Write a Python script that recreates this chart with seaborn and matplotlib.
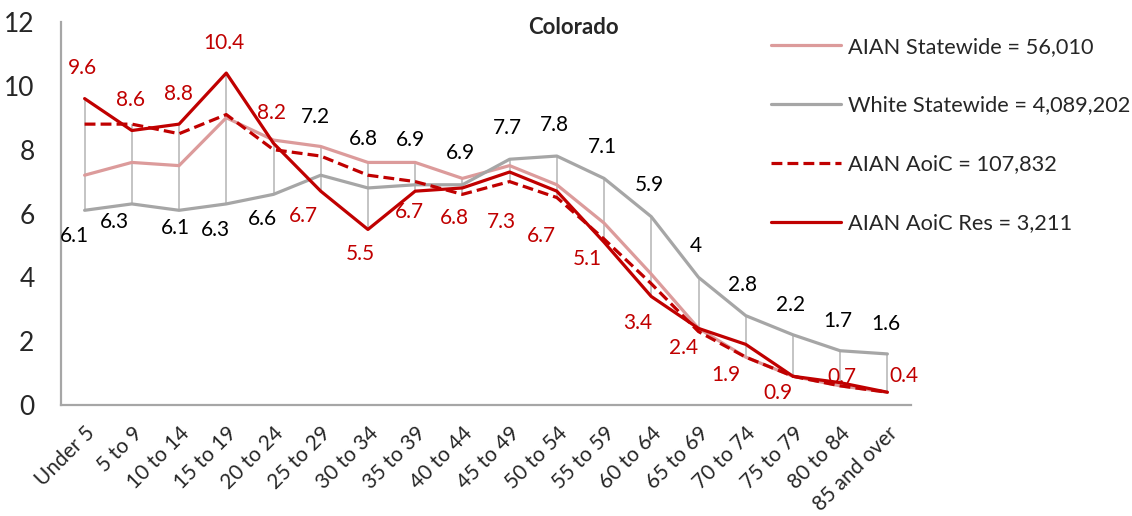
import numpy as np
import pandas as pd
import seaborn as sns
import matplotlib.pyplot as plt

# --- dados ---
categories = ["Under 5", "5 to 9", "10 to 14", "15 to 19", "20 to 24", "25 to 29",
              "30 to 34", "35 to 39", "40 to 44", "45 to 49", "50 to 54", "55 to 59",
              "60 to 64", "65 to 69", "70 to 74", "75 to 79", "80 to 84", "85 and over"]

aian_statewide = [7.2, 7.6, 7.5, 9.0, 8.3, 8.1, 7.6, 7.6, 7.1, 7.5, 6.9, 5.7, 4.1, 2.4, 1.5, 0.9, 0.6, 0.4]
white_statewide = [6.1, 6.3, 6.1, 6.3, 6.6, 7.2, 6.8, 6.9, 6.9, 7.7, 7.8, 7.1, 5.9, 4, 2.8, 2.2, 1.7, 1.6]
aian_aoic = [8.8, 8.8, 8.5, 9.1, 8.0, 7.8, 7.2, 7.0, 6.6, 7.0, 6.5, 5.2, 3.8, 2.3, 1.5, 0.9, 0.6, 0.4]
aian_aoic_res = [9.6, 8.6, 8.8, 10.4, 8.2, 6.7, 5.5, 6.7, 6.8, 7.3, 6.7, 5.1, 3.4, 2.4, 1.9, 0.9, 0.7, 0.4]

series_names = ["AIAN Statewide = 56,010", "White Statewide = 4,089,202",
                "AIAN AoiC = 107,832", "AIAN AoiC Res = 3,211"]

# deslocamento dos rótulos (pixels), como no gráfico original
white_label_off = [(-10, -26), (-17, -18), (-4, -18), (-11, -26), (-11, -25), (-5, 58),
                   (-5, 49), (-5, 45), (-2, 32), (-2, 31), (-2, 31), (-2, 31),
                   (-2, 32), (-3, 31), (-3, 31), (-2, 30), (-2, 30), (-2, 30)]
res_label_off = [(-2, 31), (-1, 31), (-1, 30), (-2, 30), (-2, 30), (-17, -25),
                 (-8, -25), (-6, -21), (-8, -30), (-8, -50), (-15, -45), (-17, -17),
                 (-14, -27), (-15, -20), (-20, -31), (-15, -17), (2, 6), (17, 16)]

PINK = "#DC9B9B"
GRAY = "#A6A6A6"
RED = "#C00000"

sns.set_style("white")
plt.rcParams["font.family"] = ["Lato", "DejaVu Sans"]

fig = plt.figure(figsize=(11.32, 5.16), dpi=100)
ax = fig.add_axes([61 / 1132, 1 - 405 / 516, (911 - 61) / 1132, (405 - 22) / 516])

x = np.arange(len(categories))
all_vals = np.array([aian_statewide, white_statewide, aian_aoic, aian_aoic_res])

# linhas de máximo-mínimo (estilo Excel)
ax.vlines(x, all_vals.min(axis=0), all_vals.max(axis=0), color="#B4B4B4", linewidth=1.1, zorder=1)

styles = [
    (aian_statewide, PINK, "-"),
    (white_statewide, GRAY, "-"),
    (aian_aoic, RED, (0, (3.4, 1.6))),
    (aian_aoic_res, RED, "-"),
]
for (vals, color, ls), name in zip(styles, series_names):
    df = pd.DataFrame({"x": x, "y": vals})
    sns.lineplot(data=df, x="x", y="y", ax=ax, color=color, linewidth=2.3,
                 linestyle=ls, label=name, zorder=2)

for i, v in enumerate(white_statewide):
    ax.annotate(f"{v:g}", (i, v), xytext=white_label_off[i], textcoords="offset pixels",
                ha="center", va="center", fontsize=15, color="black")
for i, v in enumerate(aian_aoic_res):
    ax.annotate(f"{v:g}", (i, v), xytext=res_label_off[i], textcoords="offset pixels",
                ha="center", va="center", fontsize=15, color=RED)

ax.set_xlim(-0.5, len(categories) - 0.5)
ax.set_ylim(0, 12)
ax.set_yticks(range(0, 13, 2))
ax.set_xticks(x)
ax.set_xticklabels(categories, rotation=45, ha="right", va="top", rotation_mode="anchor", fontsize=15)
ax.set_xticks(np.arange(-0.5, len(categories), 1), minor=True)
ax.tick_params(axis="x", which="major", length=0, pad=13)
ax.tick_params(axis="x", which="minor", length=7, width=1.2, color=GRAY, direction="out")
ax.tick_params(axis="y", length=7, width=1.2, color=GRAY, direction="out", labelsize=19, pad=12)
ax.set_xlabel("")
ax.set_ylabel("")

for side in ["top", "right"]:
    ax.spines[side].set_visible(False)
for side in ["left", "bottom"]:
    ax.spines[side].set_color(GRAY)
    ax.spines[side].set_linewidth(1.6)

fig.text(573 / 1132, 1 - 27 / 516, "Colorado", ha="center", va="center",
         fontsize=16, fontweight="bold")

leg = ax.legend(loc="upper left", bbox_to_anchor=(762 / 1132, 1 - 28 / 516),
                bbox_transform=fig.transFigure, frameon=False, fontsize=15.7,
                handlelength=3.2, handletextpad=0.35, labelspacing=1.78, borderaxespad=0)

fig.savefig("out.png", dpi=100)
